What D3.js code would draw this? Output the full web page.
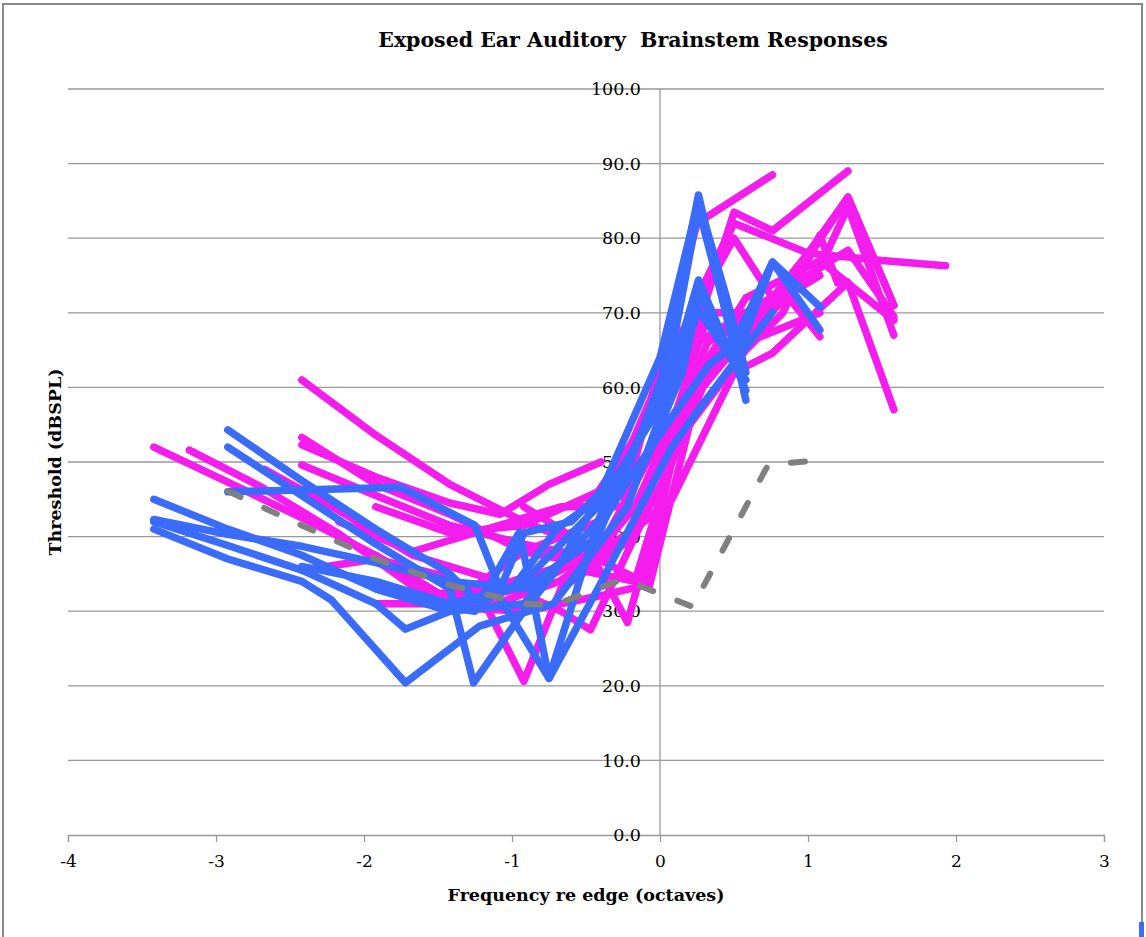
<!DOCTYPE html>
<html>
<head>
<meta charset="utf-8">
<script src="https://cdn.jsdelivr.net/npm/d3@7"></script>
<style>
  body { margin: 0; background: #fff; }
  text { font-family: "DejaVu Serif", serif; fill: #000; }
</style>
</head>
<body>
<div id="chart"></div>
<script>
// x = frequency re edge (octaves), y = threshold (dBSPL)
const xTicks = [-4, -3, -2, -1, 0, 1, 2, 3];
const yTicks = [0, 10, 20, 30, 40, 50, 60, 70, 80, 90, 100];

// magenta ears
const m1  = [[-3.42,52],[-2.92,47.3],[-2.42,42.5],[-1.92,37.5],[-1.42,31.5],[-0.92,33],[-0.42,38],[0.08,56],[0.58,72],[1.08,77],[1.58,69]];
const m2  = [[-3.18,51.6],[-2.68,46.5],[-2.18,40.5],[-1.68,33.5],[-1.18,30.5],[-0.68,34],[-0.18,41],[0.32,66],[0.82,72],[1.27,85.5],[1.58,71]];
const m3  = [[-2.42,61],[-1.92,53.6],[-1.42,47],[-0.92,42],[-0.42,38],[-0.17,44],[0.08,55],[0.58,67],[1.08,76],[1.27,84.2],[1.58,67]];
const m4  = [[-2.42,53.3],[-1.92,47],[-1.42,43],[-0.92,38],[-0.42,42],[0.08,65],[0.5,80],[0.76,72],[1.27,78.4],[1.58,69.5]];
const m5  = [[-2.42,52.3],[-1.92,48],[-1.42,44.5],[-1.08,43],[-0.75,47],[-0.4,50]];
const m6  = [[-2.42,49.6],[-1.92,45.5],[-1.42,41.5],[-0.92,39],[-0.42,37],[0.08,45],[0.5,62],[0.76,64.6],[1.27,74.1],[1.58,57]];
const m7  = [[-2.67,49],[-2.17,43.5],[-1.67,37.5],[-1.17,34.5],[-0.67,30],[-0.47,27.5],[-0.17,40],[0.08,55],[0.33,70],[0.58,70],[0.83,73],[1.08,66.8]];
const m8  = [[-2.42,35.5],[-1.92,37],[-1.42,34.5],[-1.17,30.5],[-0.92,20.6],[-0.67,33],[-0.17,40],[0.08,50],[0.33,64],[0.58,68],[0.83,72],[1.08,75]];
const m9  = [[-1.92,31],[-1.42,31],[-0.92,38],[-0.42,36],[-0.22,28.5],[0.08,50],[0.33,62],[0.58,66],[1.08,70]];
const m10 = [[-1.92,44],[-1.42,40.5],[-0.92,41.5],[-0.42,46],[0,58],[0.25,72],[0.5,82],[1,78],[1.5,77],[1.93,76.3]];
const m11 = [[-2.17,42],[-1.67,38],[-1.17,41],[-0.67,44],[-0.25,44],[0.25,82],[0.76,88.5]];
const m12 = [[-1.67,32],[-1.17,33],[-0.67,36],[-0.17,34],[0,45],[0.25,68],[0.5,83.5],[0.76,81],[1.27,89]];
const m13 = [[-1.42,30.5],[-0.92,30],[-0.42,32],[-0.1,33.5],[0.25,66],[0.5,69],[0.76,72],[1,78],[1.27,85.5],[1.58,71]];
const m14 = [[-0.92,44],[-0.67,41],[-0.42,37],[-0.07,33.5],[0.2,55],[0.58,65],[0.83,70],[1.08,80.4],[1.2,74]];

// blue ears
const b1 = [[-3.42,45],[-2.92,41],[-2.42,37.5],[-1.92,33],[-1.42,30],[-0.92,31],[-0.42,42],[0.08,62],[0.26,74.4],[0.58,59.6]];
const b2 = [[-3.42,42.3],[-2.92,40.3],[-2.42,38.7],[-1.92,36.5],[-1.42,34],[-0.92,33],[-0.42,40],[0,60],[0.26,85.8],[0.58,58.3]];
const b3 = [[-3.42,41],[-2.92,37],[-2.42,34],[-2.22,31.5],[-1.72,20.4],[-1.22,28],[-0.72,31],[-0.22,44],[0.26,70.4],[0.58,61]];
const b4 = [[-2.92,54.3],[-2.42,47.5],[-1.92,41],[-1.42,35],[-1.22,31],[-0.92,34],[-0.42,44],[0.08,60],[0.26,73],[0.5,63],[0.76,76.8],[1.08,70.8]];
const b5 = [[-2.92,52],[-2.42,45.5],[-1.92,39],[-1.42,33],[-1.26,20.4],[-0.92,30],[-0.72,35],[-0.42,45],[0,64],[0.26,85],[0.45,72],[0.58,62]];
const b6 = [[-2.92,46],[-1.75,46.6],[-1.25,41.5],[-1.08,33],[-0.92,40.5],[-0.6,42],[-0.2,50],[0.08,65],[0.26,84],[0.5,66],[0.76,76.8],[1.08,67.7]];
const b7 = [[-3.42,42],[-2.92,38.8],[-2.42,35.5],[-1.92,31],[-1.72,27.6],[-1.42,30],[-1.12,33],[-0.75,21],[-0.42,33],[0.08,52],[0.26,57],[0.76,70.1]];
const b8 = [[-1.92,33],[-1.58,31],[-1.25,30],[-0.95,40.6],[-0.75,21],[-0.45,40],[-0.2,48],[0.08,56],[0.33,63],[0.58,67]];
const b9 = [[-2.42,36],[-1.92,34],[-1.42,31],[-1,33],[-0.7,41],[-0.35,46],[-0.1,50],[0.15,62],[0.26,72]];

// unexposed mean (dashed)
const control = [[-2.92,46.1],[-2.42,41.5],[-1.92,37],[-1.42,33.5],[-0.92,31],[-0.72,30.8],[-0.25,34.3],[0.22,30.6],[0.73,49.6],[0.99,50.1]];

const magentaSeries = [m1, m2, m3, m4, m5, m6, m7, m8, m9, m10, m11, m12, m13, m14];
const blueSeries = [b1, b2, b3, b4, b5, b6, b7, b8, b9];

const width = 1146, height = 937;

const svg = d3.select('#chart').append('svg')
  .attr('width', width)
  .attr('height', height);

// outer frame
svg.append('rect')
  .attr('x', 3).attr('y', 4)
  .attr('width', 1139).attr('height', 945)
  .style('fill', 'none')
  .style('stroke', '#888')
  .style('stroke-width', 2);

const x = d3.scaleLinear().domain([-4, 3]).range([68, 1104]);
const y = d3.scaleLinear().domain([0, 100]).range([835, 89]);

// gridlines
svg.append('g')
  .selectAll('line')
  .data(yTicks.filter(d => d > 0))
  .enter()
  .append('line')
  .attr('x1', x(-4)).attr('x2', x(3))
  .attr('y1', d => y(d)).attr('y2', d => y(d))
  .style('stroke', '#999')
  .style('stroke-width', 1.3);

// y axis at x = 0
svg.append('line')
  .attr('x1', x(0)).attr('x2', x(0))
  .attr('y1', y(100)).attr('y2', y(0))
  .style('stroke', '#999')
  .style('stroke-width', 1.3);

// x axis
const xAxis = d3.axisBottom(x)
  .tickValues(xTicks)
  .tickSize(7)
  .tickFormat(d => String(d));

const gx = svg.append('g')
  .attr('transform', `translate(0, ${y(0)})`)
  .call(xAxis);
gx.select('.domain').attr('stroke', '#999').attr('stroke-width', 1.3);
gx.selectAll('.tick line').attr('stroke', '#999').attr('stroke-width', 1.3);
gx.selectAll('.tick text')
  .attr('y', 20)
  .style('font-family', '"DejaVu Serif", serif')
  .style('font-size', '17px')
  .attr('fill', '#000');

// y tick labels
svg.append('g')
  .selectAll('text')
  .data(yTicks)
  .enter()
  .append('text')
  .attr('x', 641)
  .attr('y', d => y(d))
  .attr('dy', '0.35em')
  .attr('text-anchor', 'end')
  .style('font-size', '17.5px')
  .text(d => d3.format('.1f')(d));

// series
const line = d3.line()
  .x(d => x(d[0]))
  .y(d => y(d[1]));

svg.append('g')
  .selectAll('path')
  .data(magentaSeries)
  .enter()
  .append('path')
  .attr('d', line)
  .style('fill', 'none')
  .style('stroke', '#F41DEE')
  .style('stroke-width', 7.5)
  .style('stroke-linejoin', 'round')
  .style('stroke-linecap', 'round');

svg.append('g')
  .selectAll('path')
  .data(blueSeries)
  .enter()
  .append('path')
  .attr('d', line)
  .style('fill', 'none')
  .style('stroke', '#3A6BFA')
  .style('stroke-width', 7.5)
  .style('stroke-linejoin', 'round')
  .style('stroke-linecap', 'round');

svg.append('path')
  .datum(control)
  .attr('d', line)
  .style('fill', 'none')
  .style('stroke', '#808080')
  .style('stroke-width', 6)
  .style('stroke-dasharray', '14,26')
  .style('stroke-linecap', 'round');

// titles
svg.append('text')
  .attr('x', 633)
  .attr('y', 47)
  .attr('text-anchor', 'middle')
  .style('font-size', '20.5px')
  .style('font-weight', 'bold')
  .style('white-space', 'pre')
  .text('Exposed Ear Auditory  Brainstem Responses');

svg.append('text')
  .attr('x', 586)
  .attr('y', 901)
  .attr('text-anchor', 'middle')
  .style('font-size', '17.5px')
  .style('font-weight', 'bold')
  .text('Frequency re edge (octaves)');

svg.append('text')
  .attr('transform', 'translate(61, 462) rotate(-90)')
  .attr('text-anchor', 'middle')
  .style('font-size', '17.5px')
  .style('font-weight', 'bold')
  .text('Threshold (dBSPL)');

// clipped legend key at the bottom-right edge
svg.append('rect')
  .attr('x', 1139).attr('y', 922)
  .attr('width', 5).attr('height', 15)
  .style('fill', '#3A6BFA');
</script>
</body>
</html>
